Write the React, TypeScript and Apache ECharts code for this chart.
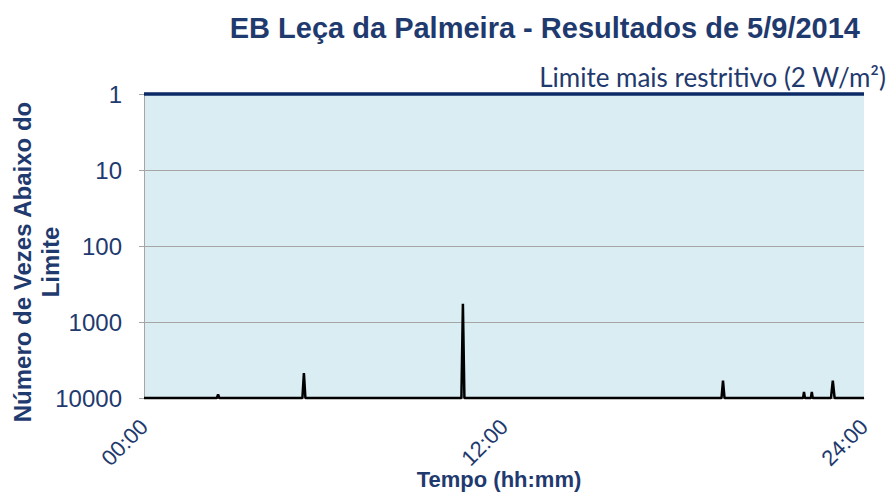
import React, { useEffect, useRef } from "react";
import * as echarts from "echarts";

const TITLE = "EB Leça da Palmeira - Resultados de 5/9/2014";
const LIMIT_LABEL = "Limite mais restritivo (2 W/m²)";
const Y_NAME = "Número de Vezes Abaixo do\nLimite";
const X_NAME = "Tempo (hh:mm)";

// time of day in hours
const times = [0, 2.43, 2.47, 2.51, 5.28, 5.33, 5.38, 10.58, 10.63, 10.68, 19.25, 19.3, 19.35, 21.97, 22.0, 22.03, 22.23, 22.26, 22.29, 22.9, 22.96, 23.02, 24];
// number of times below the limit
const counts = [10000, 10000, 9000, 10000, 10000, 4700, 10000, 10000, 575, 10000, 10000, 5900, 10000, 10000, 8300, 10000, 10000, 8300, 10000, 10000, 5900, 10000, 10000];
const limitValue = 1;

const NAVY = "#1F3A6E";
const FONT = "'Liberation Sans', Arial, sans-serif";

function fmtTime(h: number) {
  const hh = Math.floor(h);
  const mm = Math.round((h - hh) * 60);
  return String(hh).padStart(2, "0") + ":" + String(mm).padStart(2, "0");
}

export default function App() {
  const ref = useRef<HTMLDivElement>(null);
  useEffect(() => {
    if (!ref.current) return;
    const chart = echarts.init(ref.current, undefined, { renderer: "svg" });
    chart.setOption({
      animation: false,
      backgroundColor: "#ffffff",
      grid: {
        left: 144,
        right: 25,
        top: 94,
        bottom: 95,
        show: true,
        backgroundColor: "#DAEDF3",
        borderWidth: 0,
        outerBoundsMode: "none",
        containLabel: false,
      },
      graphic: [
        {
          type: "text",
          x: 860,
          y: 28,
          style: {
            text: TITLE,
            fill: NAVY,
            font: "bold 29px " + FONT,
            textAlign: "right",
            textVerticalAlign: "middle",
          },
        },
        {
          type: "text",
          x: 886,
          y: 77,
          style: {
            text: LIMIT_LABEL,
            fill: NAVY,
            font: "26px Lato, 'Noto Sans', sans-serif",
            textAlign: "right",
            textVerticalAlign: "middle",
          },
        },
        {
          type: "text",
          x: 36,
          y: 262,
          rotation: Math.PI / 2,
          style: {
            text: Y_NAME,
            fill: NAVY,
            font: "bold 24px " + FONT,
            lineHeight: 28,
            textAlign: "center",
            textVerticalAlign: "middle",
          },
        },
        {
          type: "text",
          x: 499,
          y: 479,
          style: {
            text: X_NAME,
            fill: NAVY,
            font: "bold 22px " + FONT,
            textAlign: "center",
            textVerticalAlign: "middle",
          },
        },
      ],
      xAxis: {
        type: "value",
        min: 0,
        max: 24,
        interval: 12,
        axisLine: { show: true, lineStyle: { color: "#A6A6A6" } },
        axisTick: { show: false },
        splitLine: { show: false },
        axisLabel: {
          rotate: 45,
          margin: 25,
          color: NAVY,
          fontFamily: FONT,
          fontSize: 22,
          formatter: (v: number) => fmtTime(v),
        },
      },
      yAxis: {
        type: "log",
        logBase: 10,
        inverse: true,
        min: 1,
        max: 10000,
        axisLine: { show: true, lineStyle: { color: "#A6A6A6" } },
        axisTick: { show: true, length: 5, lineStyle: { color: "#A6A6A6" } },
        splitLine: { show: true, lineStyle: { color: "#A6A6A6", width: 1 } },
        axisLabel: {
          margin: 22,
          color: NAVY,
          fontFamily: FONT,
          fontSize: 24,
          formatter: (v: number) => String(Math.round(v)),
        },
      },
      series: [
        {
          type: "line",
          data: times.map((t, i) => [t, counts[i]]),
          showSymbol: false,
          clip: false,
          lineStyle: { color: "#000000", width: 2.5 },
          z: 3,
          markLine: {
            silent: true,
            symbol: "none",
            label: { show: false },
            lineStyle: { color: "#0B2A66", width: 3.5, type: "solid" },
            data: [{ yAxis: limitValue }],
          },
        },
      ],
    });
    return () => chart.dispose();
  }, []);
  return <div ref={ref} style={{ position: "fixed", left: 0, top: 0, width: 889, height: 493 }} />;
}
